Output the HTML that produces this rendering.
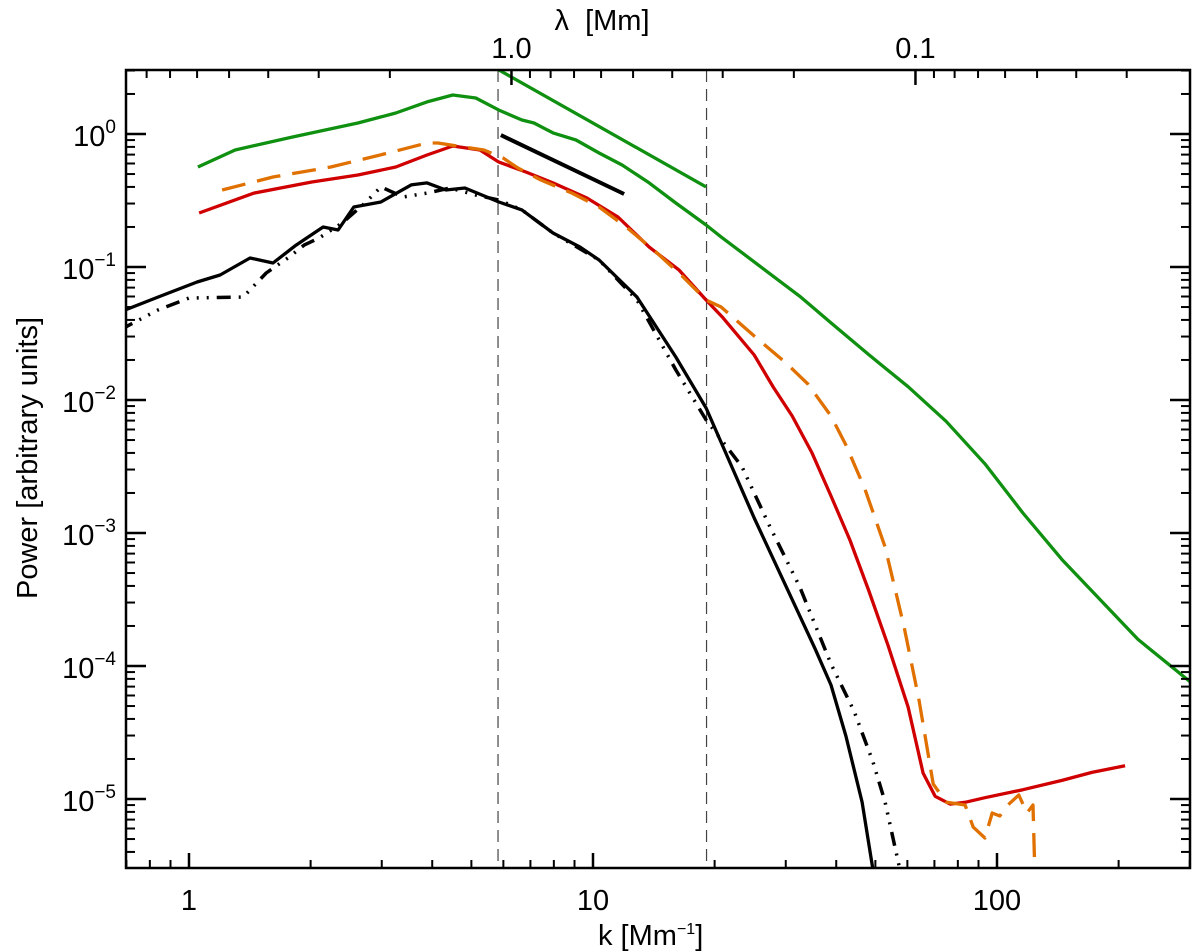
<!DOCTYPE html>
<html><head><meta charset="utf-8"><style>
body{margin:0;background:#fff}
svg{display:block;font-family:"Liberation Sans",sans-serif}
</style></head><body>
<svg id="chart" width="1200" height="952" xmlns="http://www.w3.org/2000/svg">
<defs><clipPath id="clip"><rect x="126" y="70" width="1064" height="798"/></clipPath></defs>
<g id="curves" clip-path="url(#clip)"></g>
<g id="axes"></g>
<text x="598" y="945" font-size="29">k  [Mm<tspan dy="-11" font-size="16">−1</tspan><tspan dy="11">]</tspan></text>
<text x="602" y="30" text-anchor="middle" font-size="29" xml:space="preserve">λ  [Mm]</text>
<text transform="translate(37,458) rotate(-90)" text-anchor="middle" font-size="29">Power [arbitrary units]</text>
</svg>
<script>
// data in log10 units: log10(k [Mm^-1]) and log10(Power)
const greenLogK=[0.022,0.114,0.255,0.418,0.512,0.589,0.653,0.710,0.767,0.824,0.854,0.901,0.958,1.015,1.072,1.139,1.205,1.280,1.317,1.512,1.589,1.683,1.780,1.874,1.970,2.064,2.161,2.255,2.349,2.483];
const greenLogP=[-0.248,-0.12,-0.023,0.083,0.158,0.241,0.293,0.271,0.180,0.105,0.083,0.008,-0.045,-0.143,-0.233,-0.368,-0.519,-0.684,-0.774,-1.22,-1.42,-1.66,-1.9,-2.16,-2.48,-2.85,-3.2,-3.5,-3.8,-4.13];
const redLogK=[0.025,0.161,0.304,0.418,0.512,0.589,0.653,0.720,0.767,0.834,0.901,0.985,1.062,1.139,1.213,1.280,1.322,1.399,1.446,1.493,1.542,1.589,1.636,1.683,1.730,1.780,1.817,1.847,1.884,1.921,1.970,2.064,2.161,2.235,2.317];
const redLogP=[-0.594,-0.444,-0.361,-0.308,-0.248,-0.158,-0.090,-0.120,-0.211,-0.286,-0.368,-0.481,-0.624,-0.850,-1.023,-1.248,-1.383,-1.662,-1.902,-2.120,-2.398,-2.722,-3.053,-3.436,-3.842,-4.308,-4.805,-4.980,-5.038,-5.025,-4.99,-4.93,-4.86,-4.80,-4.75];
const orangeLogK=[0.082,0.208,0.351,0.493,0.589,0.616,0.663,0.730,0.777,0.814,0.871,0.948,1.015,1.082,1.156,1.223,1.280,1.317,1.399,1.475,1.532,1.589,1.626,1.673,1.723,1.770,1.807,1.842,1.874,1.921,1.941,1.970,1.988,2.007,2.027,2.054,2.074,2.089,2.094];
const orangeLogP=[-0.421,-0.323,-0.248,-0.143,-0.068,-0.068,-0.090,-0.120,-0.180,-0.256,-0.346,-0.444,-0.549,-0.699,-0.887,-1.075,-1.248,-1.301,-1.519,-1.714,-1.880,-2.120,-2.338,-2.669,-3.105,-3.707,-4.256,-4.887,-5.023,-5.045,-5.211,-5.293,-5.105,-5.128,-5.045,-4.970,-5.105,-5.045,-5.6];
const blackLogK=[-0.171,-0.077,0.020,0.077,0.151,0.208,0.265,0.332,0.369,0.408,0.475,0.550,0.589,0.636,0.683,0.767,0.824,0.901,0.968,1.015,1.109,1.205,1.280,1.332,1.399,1.475,1.550,1.589,1.626,1.666,1.693];
const blackLogP=[-1.338,-1.226,-1.113,-1.060,-0.932,-0.970,-0.835,-0.699,-0.722,-0.549,-0.511,-0.383,-0.368,-0.421,-0.406,-0.511,-0.571,-0.744,-0.850,-0.947,-1.226,-1.677,-2.060,-2.421,-2.887,-3.383,-3.872,-4.143,-4.526,-5.023,-5.534];
const dashLogK=[-0.171,-0.077,0,0.134,0.191,0.248,0.285,0.322,0.379,0.436,0.475,0.530,0.589,0.646,0.710,0.767,0.824,0.901,1.015,1.109,1.205,1.280,1.369,1.436,1.512,1.589,1.646,1.693,1.723,1.760];
const dashLogP=[-1.474,-1.323,-1.233,-1.226,-1.045,-0.925,-0.835,-0.782,-0.669,-0.519,-0.398,-0.474,-0.444,-0.406,-0.459,-0.496,-0.571,-0.744,-0.947,-1.248,-1.774,-2.150,-2.504,-2.940,-3.406,-3.985,-4.338,-4.722,-5.023,-5.534];
const greenSlopeK=[0.767,1.280];
const greenSlopeP=[0.481,-0.398];
const blackSlopeK=[0.772,1.077];
const blackSlopeP=[-0.008,-0.451];
const yTicks=[0,-1,-2,-3,-4,-5];
const xTicks=[1,10,100];
const lambdaTicks=[1.0,0.1];
const lambdaLabels=["1.0","0.1"];
const vlinesK=[5.82,19.1];

const L=126,R=1190,T=70,B=868;
const xs=lk=>189+(lk)*404;
const ys=lp=>134-lp*133;
const NS="http://www.w3.org/2000/svg";
const curves=document.getElementById('curves'),axes=document.getElementById('axes');
function mk(tag,attrs,parent){const e=document.createElementNS(NS,tag);for(const k in attrs)e.setAttribute(k,attrs[k]);parent.appendChild(e);return e;}
function line(lk,lp,color,dash,w,name){
  const d=lk.map((v,i)=>(i?'L':'M')+xs(v).toFixed(1)+','+ys(lp[i]).toFixed(1)).join(' ');
  const p=mk('path',{d:d,fill:'none',stroke:color,'stroke-width':w,'stroke-dasharray':dash,'stroke-linejoin':'round'},curves);
  
  
}
vlinesK.forEach((k,i)=>{const x=xs(Math.log10(k));const l=mk('line',{x1:x,x2:x,y1:T,y2:B,stroke:'#444','stroke-width':1.2,'stroke-dasharray':'12,7'},curves);
  
  });
line(greenLogK,greenLogP,'#109010','none',3.3,'green-series');
line(redLogK,redLogP,'#d00000','none',3.3,'red-series');
line(orangeLogK,orangeLogP,'#e07000','24,12',3.3,'orange-dashed-series');
line(blackLogK,blackLogP,'#000','none',3.3,'black-solid-series');
line(dashLogK,dashLogP,'#000','14,8,2,8,2,8,2,8',3.5,'black-dash-dot-series');
line(greenSlopeK,greenSlopeP,'#109010','none',3.3,'green-power-law');
line(blackSlopeK,blackSlopeP,'#000','none',4,'black-power-law');
const fr=mk('rect',{x:L,y:T,width:R-L,height:B-T,fill:'none',stroke:'#000','stroke-width':2.5},axes);


yTicks.forEach(t=>{const y=ys(t);
  mk('line',{x1:L,x2:L+20,y1:y,y2:y,stroke:'#000','stroke-width':2.5},axes);
  mk('line',{x1:R,x2:R-20,y1:y,y2:y,stroke:'#000','stroke-width':2.5},axes);
  for(let m=2;m<10;m++){const yy=ys(t-1+Math.log10(m));if(yy<T||yy>B)continue;
    mk('line',{x1:L,x2:L+9,y1:yy,y2:yy,stroke:'#000','stroke-width':2},axes);
    mk('line',{x1:R,x2:R-9,y1:yy,y2:yy,stroke:'#000','stroke-width':2},axes);}
  const tx=mk('text',{x:116,y:y+12,'text-anchor':'end','font-size':29},axes);
  
  
  tx.innerHTML='10<tspan dy="-13" font-size="19">'+(t===0?'0':'−'+(-t))+'</tspan>';
});
for(let m=2;m<10;m++){const yy=ys(Math.log10(m));if(yy>=T){mk('line',{x1:L,x2:L+9,y1:yy,y2:yy,stroke:'#000','stroke-width':2},axes);mk('line',{x1:R,x2:R-9,y1:yy,y2:yy,stroke:'#000','stroke-width':2},axes);}}
xTicks.forEach(k=>{const x=xs(Math.log10(k));
  mk('line',{x1:x,x2:x,y1:B,y2:B-15,stroke:'#000','stroke-width':2.5},axes);
  const tx=mk('text',{x:x,y:910,'text-anchor':'middle','font-size':29},axes);
  
  
  tx.textContent=String(k);});
[0.1,1,10,100].forEach(d=>{for(let m=2;m<10;m++){const x=xs(Math.log10(d*m));if(x<L||x>R)continue;
  mk('line',{x1:x,x2:x,y1:B,y2:B-8,stroke:'#000','stroke-width':2},axes);}});
lambdaTicks.forEach((lam,i)=>{const x=xs(Math.log10(2*Math.PI/lam));
  mk('line',{x1:x,x2:x,y1:T,y2:T+15,stroke:'#000','stroke-width':2.5},axes);
  const tx=mk('text',{x:x,y:T-12,'text-anchor':'middle','font-size':29},axes);
  
  
  tx.textContent=lambdaLabels[i];});
[0.01,0.1,1,10].forEach(d=>{for(let m=2;m<10;m++){const x=xs(Math.log10(2*Math.PI/(d*m)));if(x<L||x>R)continue;
  mk('line',{x1:x,x2:x,y1:T,y2:T+8,stroke:'#000','stroke-width':2},axes);}});
</script>
</body></html>
